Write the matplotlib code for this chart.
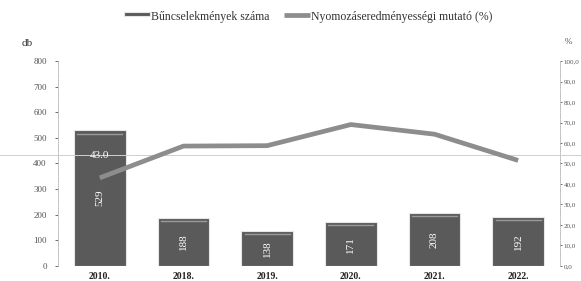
import matplotlib.pyplot as plt
import numpy as np

years = ['2010.', '2018.', '2019.', '2020.', '2021.', '2022.']
cases = [529, 188, 138, 171, 208, 192]
rate = [43.0, 58.5, 58.7, 69.0, 64.3, 51.5]
left_ticks = [0, 100, 200, 300, 400, 500, 600, 700, 800]
right_ticks = [0, 10, 20, 30, 40, 50, 60, 70, 80, 90, 100]

plt.rcParams['font.family'] = ['Liberation Serif', 'DejaVu Serif']

fig = plt.figure(figsize=(5.81, 2.81), dpi=100)
ax = fig.add_axes([0.0998, 0.0534, 0.8640, 0.7295])
ax2 = ax.twinx()
ax.set_zorder(1)
ax2.set_zorder(2)
ax.patch.set_visible(False)

x = np.arange(len(years))
bar_col = '#5a5a5a'
line_col = '#8d8d8d'

bars = ax.bar(x, cases, width=0.62, color=bar_col, edgecolor='#e6e6e6', linewidth=0.8,
              label='Bűncselekmények száma')
# light strip near the top of each bar
for xi, v in zip(x, cases):
    ax.plot([xi - 0.27, xi + 0.27], [v - 12, v - 12], color='#9a9a9a', lw=1.0, zorder=3)
    ax.text(xi, v / 2, str(v), rotation=90, ha='center', va='center',
            color='white', fontsize=8, zorder=4)

ln, = ax2.plot(x, rate, color=line_col, lw=3.4, solid_capstyle='butt',
               label='Nyomozáseredményességi mutató (%)', zorder=5)
ax2.text(x[0], rate[0] + 11, f'{rate[0]:.1f}', ha='center', va='center',
         color='white', fontsize=8, zorder=6)

ax.set_xlim(-0.5, len(years) - 0.5)
ax.set_ylim(0, 800)
ax2.set_ylim(0, 100)
ax.set_yticks(left_ticks)
ax2.set_yticks(right_ticks)
ax2.set_yticklabels([f'{t},0' for t in right_ticks])
ax.set_xticks(x)
ax.set_xticklabels(years, fontweight='bold', fontsize=7)
ax.tick_params(axis='x', length=0, pad=4, colors='#222222')
ax.tick_params(axis='y', labelsize=6.5, colors='#555555', length=2, width=0.6, pad=6)
ax2.tick_params(axis='y', labelsize=5, colors='#555555', length=1.5, width=0.6, pad=1)

for a in (ax, ax2):
    for s in ('top', 'bottom'):
        a.spines[s].set_visible(False)
    for s in ('left', 'right'):
        a.spines[s].set_color('#bbbbbb')
        a.spines[s].set_linewidth(0.6)
        a.spines[s].set_linestyle(':')

fig.text(0.038, 0.835, 'db', fontsize=8, color='#333333')
fig.text(0.972, 0.845, '%', fontsize=6.5, color='#555555')

# faint horizontal scan line across the page
fig.add_artist(plt.Line2D([0, 1], [0.448, 0.448], color='#cfcfcf', lw=0.7))

fig.legend(handles=[bars, ln], loc='upper center', bbox_to_anchor=(0.53, 1.0), ncol=2,
           frameon=False, fontsize=8.5, handlelength=2.2, handletextpad=0.1,
           columnspacing=1.2, labelcolor='#333333')
leg = fig.legends[0]
leg.legend_handles[0].set_height(3)
leg.legend_handles[0].set_y(2.5)

fig.savefig('out.png', dpi=100)
